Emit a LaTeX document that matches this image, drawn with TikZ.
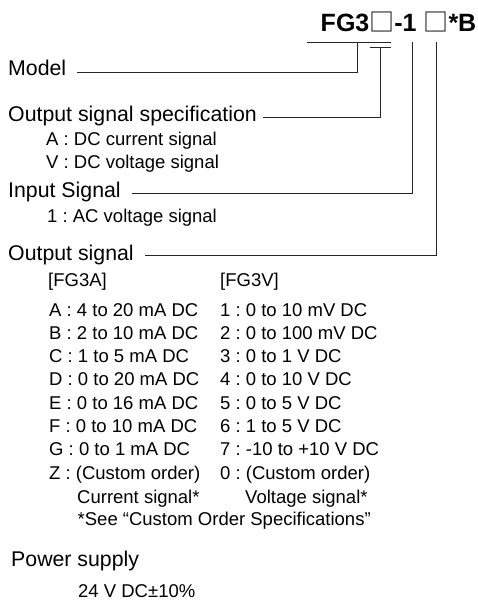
\documentclass[tikz,border=0pt]{standalone}
\usepackage{fontspec}
\setmainfont{Liberation Sans}
\newfontfamily\cjk{Noto Sans CJK SC}
\newcommand{\sqbox}{{\cjk\mdseries □}}
\frenchspacing
\begin{document}
\begin{tikzpicture}[x=1pt,y=-1pt,
  titlebox/.style={anchor=base east, inner sep=0pt, font=\fontsize{25}{30}\selectfont\bfseries},
  lbl/.style={anchor=base west, inner sep=0pt, font=\fontsize{21.3}{25}\selectfont},
  sub/.style={anchor=base west, inner sep=0pt, font=\fontsize{18.5}{22}\selectfont},
  lead/.style={line width=0.9pt, draw=black!85}]
\useasboundingbox (0,0) rectangle (477,601);

% title
\node[titlebox] (title) at (476.5,32) {FG3\sqbox-1 \sqbox*B};

% main labels
\node[lbl] (model) at (8,76) {Model};
\node[lbl] (ospec) at (8,122) {Output signal specification};
\node[lbl] (insig) at (8,198) {Input Signal};
\node[lbl] (osig) at (8,260) {Output signal};
\node[lbl] (power) at (11,566) {Power supply};

% sub items
\node[sub] (oa) at (46,146) {A : DC current signal};
\node[sub] (ov) at (46,169) {V : DC voltage signal};
\node[sub] (i1) at (47,223) {1 : AC voltage signal};
\node[sub] (hA) at (48,286) {[FG3A]};
\node[sub] (hV) at (220,286) {[FG3V]};

\def\pitch{23.3}
\foreach \t/\u [count=\k from 0] in {
  A : 4 to 20 mA DC/1 : 0 to 10 mV DC,
  B : 2 to 10 mA DC/2 : 0 to 100 mV DC,
  C : 1 to 5 mA DC/3 : 0 to 1 V DC,
  D : 0 to 20 mA DC/4 : 0 to 10 V DC,
  E : 0 to 16 mA DC/5 : 0 to 5 V DC,
  F : 0 to 10 mA DC/6 : 1 to 5 V DC,
  G : 0 to 1 mA DC/7 : -10 to +10 V DC,
  Z : (Custom order)/0 : (Custom order)}{
  \node[sub] (ra\k) at (49,316+\k*\pitch) {\t};
  \node[sub] (rv\k) at (220,316+\k*\pitch) {\u};
}
\node[sub] (cur) at (77,503) {Current signal*};
\node[sub] (vol) at (245,503) {Voltage signal*};
\node[sub] (see) at (77.5,525.5) {*See “Custom Order Specifications”};
\node[sub] (pw) at (78,597) {24 V DC±10\%};

% connector coordinates
\coordinate (t1) at (307,42);
\coordinate (t2) at (391,42);
\coordinate (s1) at (370,47);
\coordinate (s2) at (391,47);
\coordinate (v1) at (357,42);
\coordinate (v1b) at (357,72);
\coordinate (v2) at (380,47);
\coordinate (v2b) at (380,117);
\coordinate (v3) at (412,42);
\coordinate (v3b) at (412,193);
\coordinate (v4) at (436,42);
\coordinate (v4b) at (436,255);
\coordinate (m0) at (77,72);
\coordinate (o0) at (263,117);
\coordinate (n0) at (132,193);
\coordinate (g0) at (145,255);

\draw[lead] (t1) -- (t2);
\draw[lead] (s1) -- (s2);
\draw[lead] (m0) -- (v1b) -- (v1);
\draw[lead] (o0) -- (v2b) -- (v2);
\draw[lead] (n0) -- (v3b) -- (v3);
\draw[lead] (g0) -- (v4b) -- (v4);
\end{tikzpicture}
\end{document}
